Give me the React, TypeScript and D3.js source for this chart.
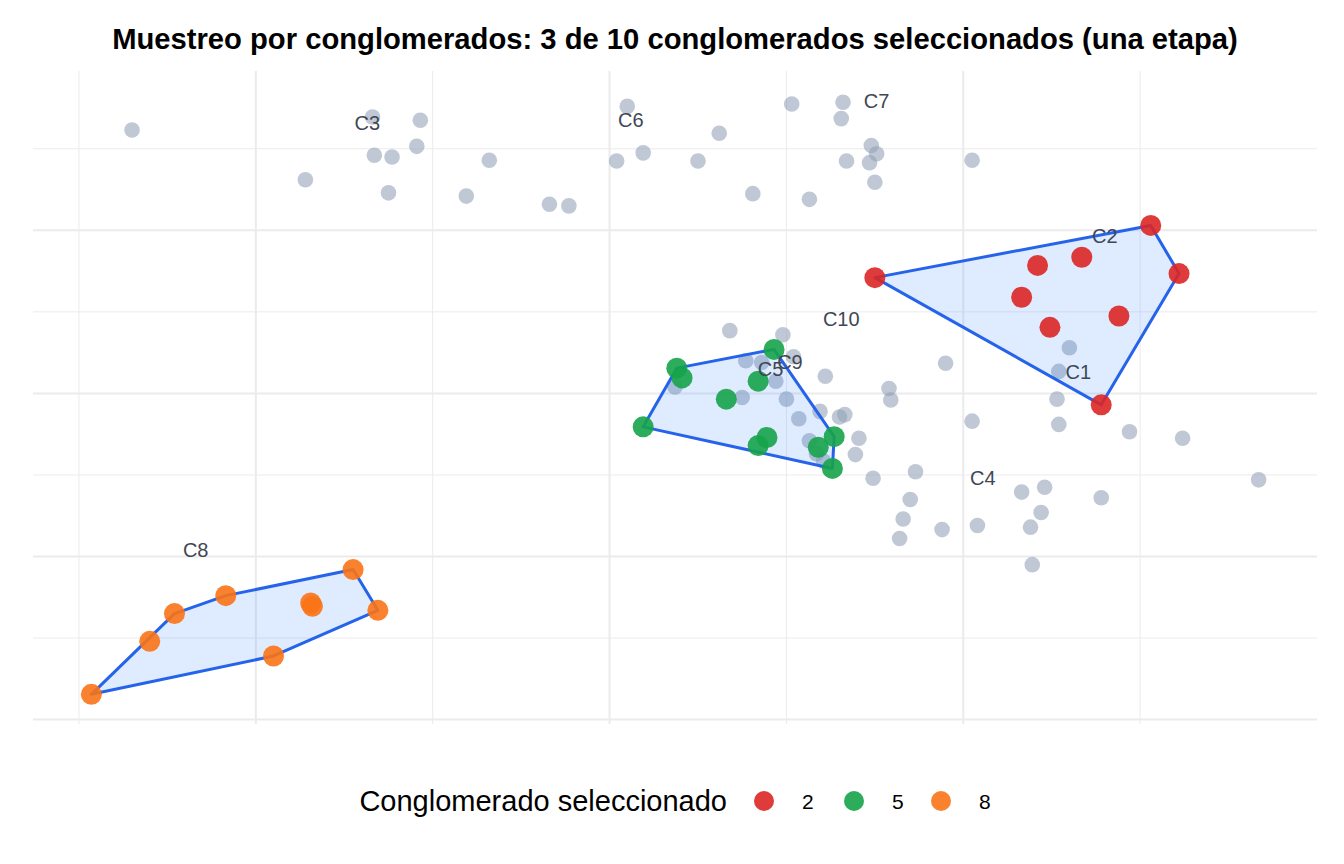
import React from "react";
import * as d3 from "d3";

// Units not in the sample (grey)
const otherPoints: [number, number][] = [
  [1.30, 7.23], [2.66, 7.39], [2.93, 7.35], [2.91, 7.03], [2.67, 6.92], [2.77, 6.90],
  [2.28, 6.62], [2.75, 6.46], [3.19, 6.42], [3.32, 6.86], [4.10, 7.52], [4.04, 6.85],
  [4.19, 6.95], [4.50, 6.85], [4.62, 7.19], [3.66, 6.32], [3.77, 6.30], [4.81, 6.45],
  [5.03, 7.55], [5.32, 7.57], [5.31, 7.37], [5.13, 6.38], [5.48, 7.04], [5.51, 6.94],
  [5.34, 6.85], [5.47, 6.83], [5.50, 6.59], [6.05, 6.86],
  [6.60, 4.56], [6.54, 4.27], [5.90, 4.37], [5.58, 4.06], [5.59, 3.92], [6.53, 3.93],
  [6.05, 3.66], [6.54, 3.62], [6.94, 3.53], [7.24, 3.45], [5.41, 3.45], [5.39, 3.25],
  [5.73, 3.04], [5.49, 2.96], [6.33, 2.79], [6.46, 2.85], [6.78, 2.72], [7.67, 2.94],
  [5.70, 2.70], [6.44, 2.54], [5.66, 2.46], [6.08, 2.38], [6.38, 2.36], [5.88, 2.33],
  [5.64, 2.22], [6.39, 1.90], [5.30, 3.71], [5.33, 3.74],
  [4.68, 4.77], [4.98, 4.72], [5.04, 4.45], [4.77, 4.40], [4.86, 4.38], [4.94, 4.15],
  [5.22, 4.21], [4.37, 4.08], [4.75, 3.95], [5.00, 3.93], [5.19, 3.78], [5.07, 3.69],
  [5.13, 3.42], [5.17, 3.26], [5.21, 3.17],
];

// Units in the selected clusters
const cluster2Points: [number, number][] = [
  [5.50, 5.42], [7.06, 6.06], [7.22, 5.47], [6.78, 3.86], [6.42, 5.57],
  [6.67, 5.67], [6.33, 5.18], [6.88, 4.95], [6.49, 4.81],
];
const cluster5Points: [number, number][] = [
  [4.19, 3.59], [4.38, 4.31], [4.41, 4.19], [4.66, 3.93], [4.84, 4.15], [4.93, 4.54],
  [4.84, 3.36], [4.89, 3.46], [5.27, 3.47], [5.18, 3.34], [5.26, 3.08],
];
const cluster8Points: [number, number][] = [
  [1.07, 0.31], [1.40, 0.96], [1.54, 1.30], [1.83, 1.52], [2.31, 1.43],
  [2.32, 1.39], [2.10, 0.78], [2.55, 1.84], [2.69, 1.34],
];

const clusterNames = ["C1", "C2", "C3", "C4", "C5", "C6", "C7", "C8", "C9", "C10"];
const clusterLabelX = [6.65, 6.80, 2.63, 6.11, 4.91, 4.12, 5.51, 1.66, 5.02, 5.31];
const clusterLabelY = [4.26, 5.93, 7.32, 2.97, 4.30, 7.35, 7.59, 2.08, 4.39, 4.91];

const selectedIds = ["2", "5", "8"];
const selectedColors = ["#DC2626", "#16A34A", "#F97316"];

const xMajor = [2, 4, 6];
const xMinor = [1, 3, 5, 7];
const yMajor = [0, 2, 4, 6];
const yMinor = [1, 3, 5, 7];

const W = 1344;
const H = 864;
const panel = { left: 33, right: 1317, top: 71, bottom: 724 };

export default function App() {
  const selectedGroups = [cluster2Points, cluster5Points, cluster8Points];
  const allX = [
    ...otherPoints.map((p) => p[0]),
    ...selectedGroups.flat().map((p) => p[0]),
    ...clusterLabelX,
  ];
  const allY = [
    ...otherPoints.map((p) => p[1]),
    ...selectedGroups.flat().map((p) => p[1]),
    ...clusterLabelY,
  ];
  const [x0, x1] = d3.extent(allX) as [number, number];
  const [y0, y1] = d3.extent(allY) as [number, number];
  const ex = (x1 - x0) * 0.05;
  const ey = (y1 - y0) * 0.05;

  const x = d3.scaleLinear().domain([x0 - ex, x1 + ex]).range([panel.left, panel.right]);
  const y = d3.scaleLinear().domain([y0 - ey, y1 + ey]).range([panel.bottom, panel.top]);

  const hulls = selectedGroups.map((pts) =>
    d3.polygonHull(pts.map((p) => [x(p[0]), y(p[1])] as [number, number]))
  );

  const legendKeyX = [764, 854, 941];
  const legendY = 801;

  return (
    <svg
      width={W}
      height={H}
      style={{ position: "absolute", left: 0, top: 0, background: "#fff" }}
      fontFamily="'Liberation Sans', Arial, sans-serif"
    >
      <rect width={W} height={H} fill="#fff" />
      {/* grid */}
      <g>
        {xMinor.map((v) => (
          <line key={"xm" + v} x1={x(v)} x2={x(v)} y1={panel.top} y2={panel.bottom} stroke="#EBEBEB" strokeWidth={1} />
        ))}
        {yMinor.map((v) => (
          <line key={"ym" + v} y1={y(v)} y2={y(v)} x1={panel.left} x2={panel.right} stroke="#EBEBEB" strokeWidth={1} />
        ))}
        {xMajor.map((v) => (
          <line key={"xM" + v} x1={x(v)} x2={x(v)} y1={panel.top} y2={panel.bottom} stroke="#EBEBEB" strokeWidth={2} />
        ))}
        {yMajor.map((v) => (
          <line key={"yM" + v} y1={y(v)} y2={y(v)} x1={panel.left} x2={panel.right} stroke="#EBEBEB" strokeWidth={2} />
        ))}
      </g>
      {/* non-selected units */}
      <g>
        {otherPoints.map((p, i) => (
          <circle key={i} cx={x(p[0])} cy={y(p[1])} r={7.8} fill="#94A3B8" fillOpacity={0.6} />
        ))}
      </g>
      {/* hulls of selected clusters */}
      <g>
        {hulls.map((h, i) =>
          h ? (
            <path
              key={i}
              d={"M" + h.map((p) => p.join(",")).join("L") + "Z"}
              fill="#3B82F6"
              fillOpacity={0.16}
              stroke="#2563EB"
              strokeWidth={3}
              strokeLinejoin="round"
            />
          ) : null
        )}
      </g>
      {/* selected units */}
      <g>
        {selectedGroups.map((pts, gi) =>
          pts.map((p, i) => (
            <circle
              key={gi + "-" + i}
              cx={x(p[0])}
              cy={y(p[1])}
              r={10.5}
              fill={selectedColors[gi]}
              fillOpacity={0.9}
            />
          ))
        )}
      </g>
      {/* cluster labels */}
      <g>
        {clusterNames.map((n, i) => (
          <text
            key={n}
            x={x(clusterLabelX[i])}
            y={y(clusterLabelY[i])}
            dy="0.36em"
            textAnchor="middle"
            fontSize={20}
            fill="#3F4756"
          >
            {n}
          </text>
        ))}
      </g>
      {/* title */}
      <text
        x={(panel.left + panel.right) / 2}
        y={49}
        textAnchor="middle"
        fontSize={29.2}
        fontWeight="bold"
        fill="#000"
      >
        Muestreo por conglomerados: 3 de 10 conglomerados seleccionados (una etapa)
      </text>
      {/* legend */}
      <g>
        <text x={727} y={legendY} dy="0.36em" textAnchor="end" fontSize={29} fill="#000">
          Conglomerado seleccionado
        </text>
        {selectedIds.map((id, i) => (
          <g key={id}>
            <circle cx={legendKeyX[i]} cy={legendY} r={10} fill={selectedColors[i]} fillOpacity={0.9} />
            <text x={legendKeyX[i] + 38} y={legendY} dy="0.36em" fontSize={21} fill="#000">
              {id}
            </text>
          </g>
        ))}
      </g>
    </svg>
  );
}
